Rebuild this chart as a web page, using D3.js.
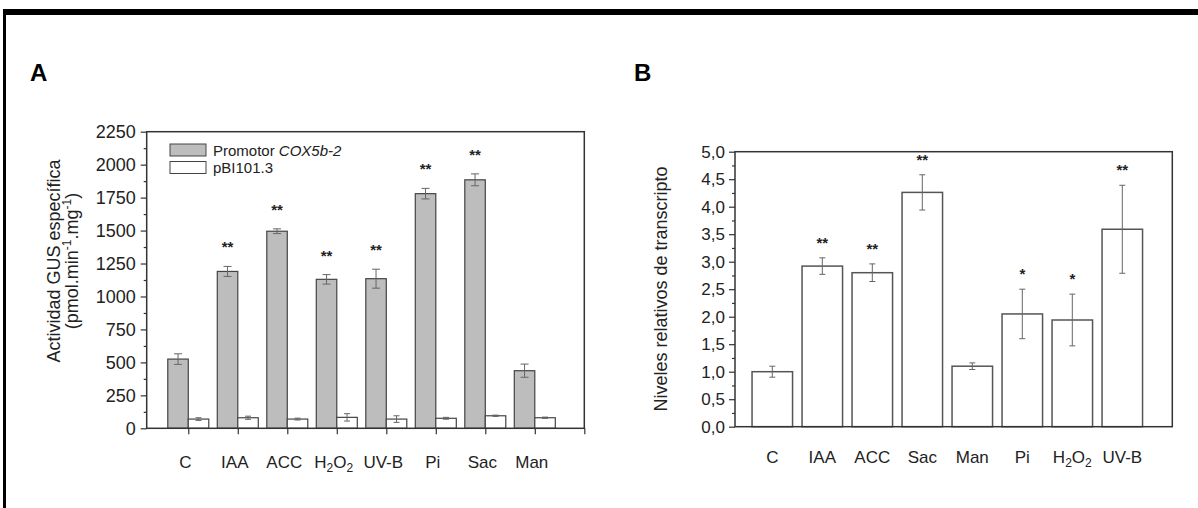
<!DOCTYPE html>
<html>
<head>
<meta charset="utf-8">
<script src="https://cdn.jsdelivr.net/npm/d3@7"></script>
<style>
  body { margin: 0; background: #fff; }
  svg { display: block; font-family: "Liberation Sans", Arial, sans-serif; }
</style>
</head>
<body>
<svg id="chart" width="1198" height="508"></svg>
<script>
// ---- panel A data ----
const catsA = ["C", "IAA", "ACC", "H2O2", "UV-B", "Pi", "Sac", "Man"];
const promotorVals = [525, 1190, 1495, 1130, 1135, 1780, 1885, 437];
const promotorErr = [40, 38, 18, 36, 72, 40, 45, 50];
const pbiVals = [70, 80, 70, 83, 70, 76, 95, 80];
const pbiErr = [10, 12, 7, 28, 25, 7, 5, 5];
const starsA = ["", "**", "**", "**", "**", "**", "**", ""];
const ticksA = [0, 250, 500, 750, 1000, 1250, 1500, 1750, 2000, 2250];

// ---- panel B data ----
const catsB = ["C", "IAA", "ACC", "Sac", "Man", "Pi", "H2O2", "UV-B"];
const relVals = [1.0, 2.92, 2.80, 4.26, 1.10, 2.05, 1.94, 3.59];
const relErr = [0.10, 0.15, 0.16, 0.32, 0.06, 0.45, 0.47, 0.80];
const starsB = ["", "**", "**", "**", "", "*", "*", "**"];
const ticksB = [0, 0.5, 1, 1.5, 2, 2.5, 3, 3.5, 4, 4.5, 5];

const svg = d3.select("#chart");
const axisColor = "#333";
const errColor = "#666";

// outer frame (top and left edge of the scanned box)
svg.append("rect").attr("x", 3).attr("y", 9).attr("width", 1195).attr("height", 6).attr("fill", "#000");
svg.append("rect").attr("x", 3).attr("y", 9).attr("width", 3).attr("height", 499).attr("fill", "#000");

function catLabel(sel, name){
    // H2O2 needs subscripts
    if (name === "H2O2"){
        sel.append("tspan").text("H");
        sel.append("tspan").text("2").attr("font-size", "12px").attr("dy", 4);
        sel.append("tspan").text("O").attr("dy", -4);
        sel.append("tspan").text("2").attr("font-size", "12px").attr("dy", 4);
    } else {
        sel.text(name);
    }
}

function drawFrame(g, x, y){
    let [x0, x1] = x.range();
    let [y0, y1] = y.range();
    g.append("rect")
        .attr("x", x0).attr("y", y1)
        .attr("width", x1 - x0).attr("height", y0 - y1)
        .attr("fill", "none").attr("stroke", axisColor).attr("stroke-width", 1.5);
}

function drawErr(g, cx, yTop, yBot, cap){
    g.append("line").attr("x1", cx).attr("x2", cx).attr("y1", yTop).attr("y2", yBot)
        .attr("stroke", errColor).attr("stroke-width", 1);
    for (let yy of [yTop, yBot]){
        g.append("line").attr("x1", cx - cap).attr("x2", cx + cap).attr("y1", yy).attr("y2", yy)
            .attr("stroke", errColor).attr("stroke-width", 1);
    }
}

// ================= panel A =================
const xA = d3.scaleLinear().domain([0.16, 9]).range([146.7, 584.3]);
const yA = d3.scaleLinear().domain([0, 2250]).range([428.3, 131.7]);
const gA = svg.append("g");
const bwA = 20.5;

// y axis with minor ticks
gA.append("g").attr("transform", "translate(146.7,0)")
    .call(d3.axisLeft(yA).tickValues(d3.range(125, 2250, 250)).tickSize(3).tickFormat(""))
    .call(g => g.select(".domain").remove());
gA.append("g").attr("transform", "translate(146.7,0)")
    .call(d3.axisLeft(yA).tickValues(ticksA).tickSize(6).tickPadding(5).tickFormat(d3.format("d")))
    .call(g => g.select(".domain").remove())
    .call(g => g.selectAll("text").attr("font-size", "18px").attr("fill", "#222"));
// x axis ticks
gA.append("g").attr("transform", "translate(0,428.3)")
    .call(d3.axisBottom(xA).tickValues(d3.range(1, 10)).tickSize(6).tickFormat(""))
    .call(g => g.select(".domain").remove());
gA.selectAll(".tick line").attr("stroke", axisColor).attr("stroke-width", 1.2);

// bars
catsA.forEach(function(c, i){
    let cx = xA(i + 1);
    gA.append("rect").attr("x", cx - bwA).attr("y", yA(promotorVals[i]))
        .attr("width", bwA).attr("height", yA(0) - yA(promotorVals[i]))
        .attr("fill", "#bdbdbd").attr("stroke", "#444").attr("stroke-width", 1.2);
    gA.append("rect").attr("x", cx).attr("y", yA(pbiVals[i]))
        .attr("width", bwA).attr("height", yA(0) - yA(pbiVals[i]))
        .attr("fill", "#fff").attr("stroke", "#444").attr("stroke-width", 1.2);
    drawErr(gA, cx - bwA / 2, yA(promotorVals[i] + promotorErr[i]), yA(promotorVals[i] - promotorErr[i]), 4);
    drawErr(gA, cx + bwA / 2, yA(pbiVals[i] + pbiErr[i]), yA(pbiVals[i] - pbiErr[i]), 3);
    if (starsA[i]){
        gA.append("text").attr("x", cx - bwA / 2).attr("y", yA(promotorVals[i] + promotorErr[i]) - 14)
            .attr("text-anchor", "middle").attr("font-size", "15px").attr("font-weight", "bold")
            .attr("fill", "#222").text(starsA[i]);
    }
    let t = gA.append("text").attr("x", cx - 3).attr("y", 468)
        .attr("text-anchor", "middle").attr("font-size", "17px").attr("fill", "#222");
    catLabel(t, c);
});
drawFrame(gA, xA, yA);

// legend
gA.append("rect").attr("x", 170).attr("y", 144).attr("width", 36).attr("height", 12)
    .attr("fill", "#bdbdbd").attr("stroke", "#444").attr("stroke-width", 1);
gA.append("rect").attr("x", 170).attr("y", 161.5).attr("width", 36).attr("height", 12)
    .attr("fill", "#fff").attr("stroke", "#444").attr("stroke-width", 1);
let legT = gA.append("text").attr("x", 213).attr("y", 155.5).attr("font-size", "15px").attr("fill", "#222");
legT.append("tspan").text("Promotor ");
legT.append("tspan").attr("font-style", "italic").text("COX5b-2");
gA.append("text").attr("x", 213).attr("y", 173).attr("font-size", "15px").attr("fill", "#222").text("pBI101.3");

// y title
let tA = gA.append("text").attr("transform", "translate(60,261) rotate(-90)")
    .attr("text-anchor", "middle").attr("font-size", "18px").attr("fill", "#222");
tA.text("Actividad GUS específica");
let tA2 = gA.append("text").attr("transform", "translate(78,261) rotate(-90)")
    .attr("text-anchor", "middle").attr("font-size", "18px").attr("fill", "#222");
tA2.append("tspan").text("(pmol.min");
tA2.append("tspan").attr("font-size", "12px").attr("dy", -7).text("-1");
tA2.append("tspan").attr("dy", 7).text(".mg");
tA2.append("tspan").attr("font-size", "12px").attr("dy", -7).text("-1");
tA2.append("tspan").attr("dy", 7).text(")");

svg.append("text").attr("x", 30).attr("y", 81).attr("font-size", "24px").attr("font-weight", "bold").text("A");

// ================= panel B =================
const xB = d3.scaleLinear().domain([0.254, 9]).range([735, 1172.3]);
const yB = d3.scaleLinear().domain([0, 5]).range([426.7, 151.7]);
const gB = svg.append("g");
const bwB = 40.5;

gB.append("g").attr("transform", "translate(735,0)")
    .call(d3.axisLeft(yB).tickValues(d3.range(0.25, 5, 0.5)).tickSize(3).tickFormat(""))
    .call(g => g.select(".domain").remove());
gB.append("g").attr("transform", "translate(735,0)")
    .call(d3.axisLeft(yB).tickValues(ticksB).tickSize(6).tickPadding(4)
        .tickFormat(d => d3.format(".1f")(d).replace(".", ",")))
    .call(g => g.select(".domain").remove())
    .call(g => g.selectAll("text").attr("font-size", "17px").attr("fill", "#222"));
gB.selectAll(".tick line").attr("stroke", axisColor).attr("stroke-width", 1.2);

catsB.forEach(function(c, i){
    let cx = xB(i + 1);
    gB.append("rect").attr("x", cx - bwB / 2).attr("y", yB(relVals[i]))
        .attr("width", bwB).attr("height", yB(0) - yB(relVals[i]))
        .attr("fill", "#fff").attr("stroke", "#555").attr("stroke-width", 1.5);
    drawErr(gB, cx, yB(relVals[i] + relErr[i]), yB(relVals[i] - relErr[i]), 3);
    if (starsB[i]){
        gB.append("text").attr("x", cx).attr("y", yB(relVals[i] + relErr[i]) - 10)
            .attr("text-anchor", "middle").attr("font-size", "15px").attr("font-weight", "bold")
            .attr("fill", "#222").text(starsB[i]);
    }
    let t = gB.append("text").attr("x", cx).attr("y", 463)
        .attr("text-anchor", "middle").attr("font-size", "17px").attr("fill", "#222");
    catLabel(t, c);
});
drawFrame(gB, xB, yB);

gB.append("text").attr("transform", "translate(667,289) rotate(-90)")
    .attr("text-anchor", "middle").attr("font-size", "18px").attr("fill", "#222")
    .text("Niveles relativos de transcripto");

svg.append("text").attr("x", 634).attr("y", 81).attr("font-size", "24px").attr("font-weight", "bold").text("B");
</script>
</body>
</html>
